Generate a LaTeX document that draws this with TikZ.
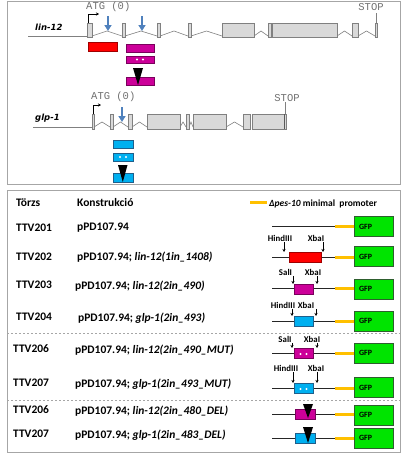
\documentclass[tikz,border=0pt]{standalone}
\usepackage{fontspec}
\setmainfont{Carlito}
\setmonofont{Liberation Mono}
\newfontfamily\genefont{DejaVu Sans}
\usetikzlibrary{arrows.meta}
\definecolor{exfill}{HTML}{D9D9D9}
\definecolor{exdraw}{HTML}{808080}
\definecolor{arrblue}{HTML}{4F81BD}
\definecolor{mag}{HTML}{CC0099}
\definecolor{magd}{HTML}{7A005C}
\definecolor{cyanb}{HTML}{00B0F0}
\definecolor{cyand}{HTML}{1F5F8B}
\definecolor{gfpg}{HTML}{00E400}
\definecolor{gfpd}{HTML}{2E5E2E}
\definecolor{prom}{HTML}{FFC000}
\definecolor{redd}{HTML}{A00000}
\definecolor{framec}{HTML}{A6A6A6}
\definecolor{monog}{HTML}{707070}
\begin{document}
\begin{tikzpicture}[x=1pt,y=-1pt,
  exon/.style={draw=exdraw,fill=exfill,line width=0.6pt},
  intron/.style={draw=exdraw,line width=0.6pt},
  panel/.style={draw=framec,line width=0.7pt},
  sepline/.style={draw=framec,line width=0.6pt,dash pattern=on 2pt off 2pt},
  monotxt/.style={font=\ttfamily\fontsize{10.5}{12}\selectfont,text=monog,inner sep=0pt},
  genelbl/.style={font=\genefont\bfseries\itshape\fontsize{8.5}{10}\selectfont,inner sep=0pt,anchor=west},
  bluearr/.style={draw=arrblue,line width=2.2pt,-{Triangle[length=6pt,width=7pt]}},
  startarr/.style={draw=black,line width=0.6pt,-{Stealth[length=3pt,width=3pt]}},
  strain/.style={font=\bfseries\fontsize{11.5}{13}\selectfont,inner sep=0pt,anchor=west},
  constr/.style={font=\bfseries\fontsize{11.5}{13}\selectfont,inner sep=0pt,anchor=west},
  site/.style={font=\bfseries\fontsize{8.8}{10}\selectfont,inner sep=0.5pt},
  sitearr/.style={draw=black,line width=0.6pt,-{Stealth[length=3pt,width=3pt]}},
  gfpbox/.style={draw=gfpd,fill=gfpg,line width=0.7pt,minimum height=20pt,text width=29pt,inner xsep=5pt,inner ysep=0pt,align=left,font=\bfseries\fontsize{8}{9}\selectfont},
  dna/.style={draw=black!85,line width=0.6pt},
  promline/.style={draw=prom,line width=3pt},
  ins/.style={line width=0.6pt,minimum width=19pt,minimum height=10pt,inner sep=0pt},
  magbox/.style={ins,draw=magd,fill=mag},
  cyabox/.style={ins,draw=cyand,fill=cyanb},
  redbox/.style={ins,draw=redd,fill=red},
  wdot/.style={fill=white},
  delwedge/.style={fill=black}]
\useasboundingbox (0,0) rectangle (407,455);
% panels
\draw[panel] (7,1) rectangle (400,184);
\draw[panel] (7,190) rectangle (400,452);

% ---------- lin-12 gene ----------
\node[genelbl] (l12) at (35,27) {lin-12};
\draw[intron] (28,36) -- (87,36);
\foreach \a/\b in {92/122,125/157,160/188,191/222,254/268,337/352,358/375}
  \draw[intron] (\a,36) -- ({(\a+\b)/2},31) -- (\b,36);
\foreach \a/\b in {87/92,122/125,157/160,188/191,222/254,268/271,272/337,352/358,375/377}
  \draw[exon] (\a,23) rectangle (\b,37);
\draw[startarr] (88,23) -- (88,14) -- (99,14);
\node[monotxt,anchor=west] (atg1) at (86,7) {ATG (0)};
\draw[intron] (376,23) -- (376,13);
\node[monotxt] (stop1) at (371,7) {STOP};
\draw[bluearr] (108,16) -- (108,31);
\draw[bluearr] (142,16) -- (142,31);
% constructs lin-12
\node[redbox,minimum width=29pt,minimum height=9pt] (lr) at (102.5,46.5) {};
\node[magbox,minimum width=28pt,minimum height=8pt] (lm1) at (140,48) {};
\node[magbox,minimum width=28pt,minimum height=7pt] (lm2) at (140,59.5) {};
\fill[wdot] (137,59.5) circle (1.2pt) (143,59.5) circle (1.2pt);
\node[magbox,minimum width=28pt,minimum height=8pt] (lm3) at (140,81) {};
\fill[delwedge] (133,68) -- (143,68) -- (138,85) -- cycle;

% ---------- glp-1 gene ----------
\node[genelbl] (g1l) at (35,118) {glp-1};
\draw[intron] (33,127) -- (92,127);
\foreach \a/\b in {94/110,113/128,132/147,180/186,189/193,226/243}
  \draw[intron] (\a,127) -- ({(\a+\b)/2},122) -- (\b,127);
\foreach \a/\b in {92/94,110/113,128/132,147/180,186/189,193/226,243/250,252/286}
  \draw[exon] (\a,114) rectangle (\b,129);
\draw[exdraw!70!black,line width=1.2pt] (284.5,114) -- (284.5,129);
\draw[startarr] (93,114) -- (93,105) -- (101,105);
\node[monotxt,anchor=west] (atg2) at (91,97) {ATG (0)};
\draw[intron] (285,114) -- (285,102);
\node[monotxt] (stop2) at (287,98) {STOP};
\draw[bluearr] (122,107) -- (122,122);
% constructs glp-1
\node[cyabox,minimum width=20pt,minimum height=8pt] (gc1) at (123,144) {};
\node[cyabox,minimum width=20pt,minimum height=8pt] (gc2) at (123,157) {};
\fill[wdot] (120,157) circle (1.2pt) (126,157) circle (1.2pt);
\node[cyabox,minimum width=20pt,minimum height=9pt] (gc3) at (123,177.5) {};
\fill[delwedge] (118,165) -- (127.5,165) -- (122.8,182) -- cycle;

% ---------- table ----------
\node[strain] (hd1) at (16,203) {Törzs};
\node[strain] (hd2) at (77,203) {Konstrukció};
\coordinate (pl1) at (250,202);
\coordinate (pl2) at (267,202);
\draw[promline] (pl1) -- (pl2);
\node[font=\bfseries\fontsize{9.5}{11}\selectfont,inner sep=0pt,anchor=west] (phd) at (269,204) {\textit{Δpes-10} minimal~ promoter};

% rows: strain names and constructs
\node[strain] (s1) at (16,228) {TTV201};
\node[constr] (c1) at (77,228) {pPD107.94};
\node[strain] (s2) at (16,257) {TTV202};
\node[constr] (c2) at (77,257) {pPD107.94; \itshape lin-12(1in\_1408)};
\node[strain] (s3) at (16,285) {TTV203};
\node[constr] (c3) at (75,286) {pPD107.94; \itshape lin-12(2in\_490)};
\node[strain] (s4) at (16,317) {TTV204};
\node[constr] (c4) at (78,318) {pPD107.94; \itshape glp-1(2in\_493)};
\node[strain] (s5) at (13,349) {TTV206};
\node[constr] (c5) at (75,350) {pPD107.94; \itshape lin-12(2in\_490\_MUT)};
\node[strain] (s6) at (13,383) {TTV207};
\node[constr] (c6) at (75,384) {pPD107.94; \itshape glp-1(2in\_493\_MUT)};
\node[strain] (s7) at (13,410) {TTV206};
\node[constr] (c7) at (75,411) {pPD107.94; \itshape lin-12(2in\_480\_DEL)};
\node[strain] (s8) at (13,434) {TTV207};
\node[constr] (c8) at (75,435) {pPD107.94; \itshape glp-1(2in\_483\_DEL)};

\draw[sepline] (7,333) -- (400,333);
\draw[sepline] (7,400) -- (400,400);

% construct drawings
\foreach \n/\y/\gy in {1/226/226.5,2/257/256.5,3/288/289,4/321/321,5/353/353,6/388/387.5,7/414/415,8/438/438}{
  \coordinate (a\n) at (272,\y);
  \coordinate (p\n) at (335,\y);
  \node[gfpbox] (gfp\n) at (373.5,\gy) {GFP};
  \draw[dna] (a\n) -- (p\n);
  \draw[promline] (p\n) -- (p\n -| gfp\n.west);
}
% inserts
\node[redbox,minimum width=32pt] (i2) at (305,257) {};
\node[magbox] (i3) at (303.5,289) {};
\node[cyabox] (i4) at (303.5,321) {};
\node[magbox] (i5) at (303.5,353) {};
\fill[wdot] (300.5,354) circle (1.1pt) (306.5,354) circle (1.1pt);
\node[cyabox] (i6) at (303.5,388) {};
\fill[wdot] (300.5,389) circle (1.1pt) (306.5,389) circle (1.1pt);
\node[magbox,minimum width=20pt] (i7) at (305,414) {};
\fill[delwedge] (303,404) -- (313,404) -- (308,418) -- cycle;
\node[cyabox,minimum width=20pt] (i8) at (305,438) {};
\fill[delwedge] (303,427) -- (313,427) -- (308,443) -- cycle;

% restriction sites
\node[site] (h2) at (280,238) {HindIII};
\node[site] (x2) at (316,238) {XbaI};
\coordinate (h2t) at (284,252);
\coordinate (x2t) at (323,252);
\draw[sitearr] (h2.south -| h2t) -- (h2t);
\draw[sitearr] (x2.south -| x2t) -- (x2t);

\node[site] (sl3) at (285.5,272) {SalI};
\node[site] (x3) at (313,272) {XbaI};
\coordinate (sl3t) at (293,284);
\coordinate (x3t) at (317,284);
\draw[sitearr] (sl3.south -| sl3t) -- (sl3t);
\draw[sitearr] (x3.south -| x3t) -- (x3t);

\node[site] (h4) at (283,305) {HindIII};
\node[site] (x4) at (306,305) {XbaI};
\coordinate (h4t) at (292,316);
\coordinate (x4t) at (316,316);
\draw[sitearr] (h4.south -| h4t) -- (h4t);
\draw[sitearr] (x4.south -| x4t) -- (x4t);

\node[site] (sl5) at (285,339) {SalI};
\node[site] (x5) at (312,339) {XbaI};
\coordinate (sl5t) at (292,348);
\coordinate (x5t) at (317,348);
\draw[sitearr] (sl5.south -| sl5t) -- (sl5t);
\draw[sitearr] (x5.south -| x5t) -- (x5t);

\node[site] (h6) at (286,368) {HindIII};
\node[site] (x6) at (316,368) {XbaI};
\coordinate (h6t) at (293,383);
\coordinate (x6t) at (317,383);
\draw[sitearr] (h6.south -| h6t) -- (h6t);
\draw[sitearr] (x6.south -| x6t) -- (x6t);
\end{tikzpicture}
\end{document}
